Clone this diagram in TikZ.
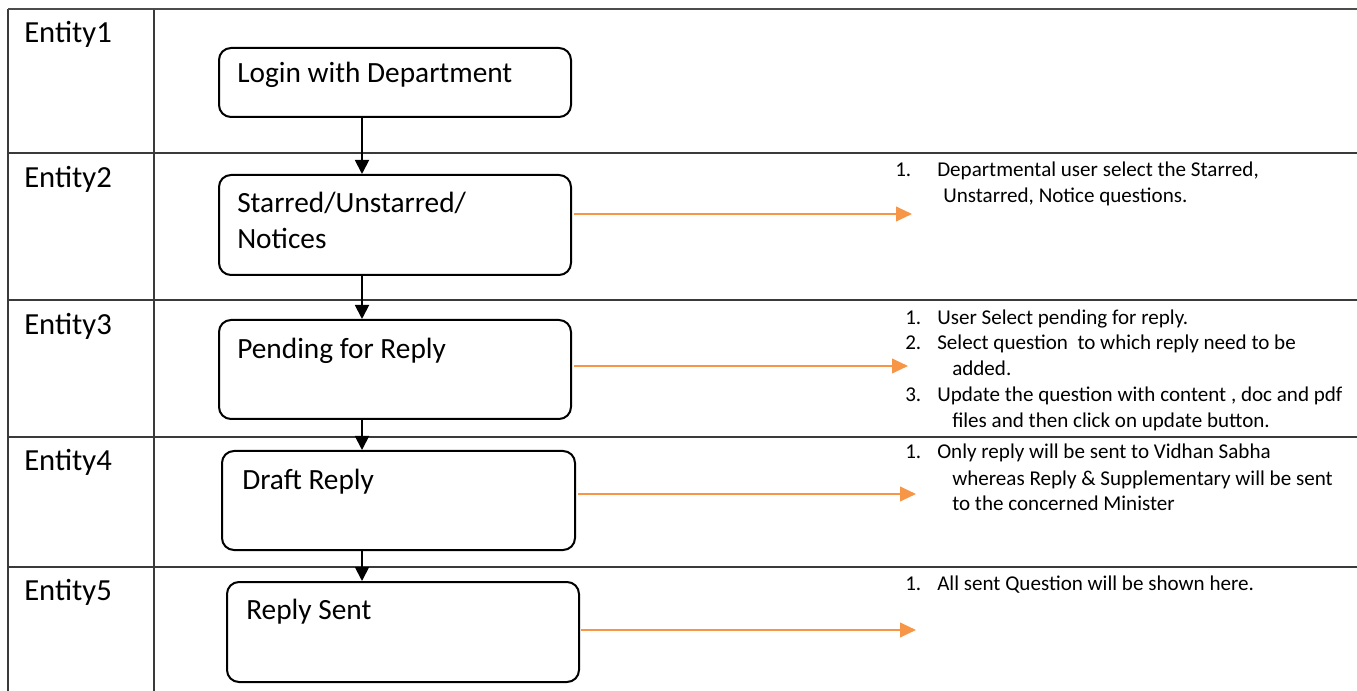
\documentclass[tikz,border=0pt]{standalone}
\usepackage{fontspec}
\setmainfont{Carlito}
\usetikzlibrary{arrows.meta}
\definecolor{noteorange}{HTML}{F79646}
\definecolor{gridgray}{HTML}{3A3A3A}
\tikzset{
  gridline/.style={draw=gridgray, line width=1.1pt},
  topline/.style={draw=black!70, line width=1.5pt},
  stage/.style={draw=black, line width=1.5pt, rounded corners=9pt, inner sep=0pt,
    anchor=north west, minimum width=264pt, minimum height=75pt},
  stagetext/.style={anchor=base west, inner sep=0pt, font=\fontsize{22}{26}\selectfont},
  entity/.style={anchor=base west, inner sep=0pt, font=\fontsize{23}{27}\selectfont},
  notetext/.style={anchor=base west, inner sep=0pt, font=\fontsize{15.8}{19}\selectfont},
  flow/.style={draw=black, line width=1.4pt, -{Triangle[length=10.5pt,width=10.5pt]}},
  remark/.style={draw=noteorange, line width=1.5pt, shorten <=1.5pt, -{Triangle[length=12pt,width=11pt]}}
}
\begin{document}
\begin{tikzpicture}[x=0.75pt, y=-0.75pt]
\useasboundingbox (0,0) rectangle (1357,691);

% swimlane grid
\draw[gridline] (8,9) -- (8,691);
\draw[gridline] (154,9) -- (154,691);
\foreach \yy in {153,300,437,567} \draw[gridline] (8,\yy) -- (1357,\yy);
\draw[topline] (8,9) -- (1357,9);

% lane titles
\node[entity] (e1) at (24,43) {Entity1};
\node[entity] (e2) at (24,188) {Entity2};
\node[entity] (e3) at (24,335) {Entity3};
\node[entity] (e4) at (24,471) {Entity4};
\node[entity] (e5) at (24,600) {Entity5};

% process stages
\node[stage, minimum height=51.75pt] (b1) at (218,47) {};
\node[stage] (b2) at (218,174) {};
\node[stage, minimum height=74.25pt] (b3) at (218,319) {};
\node[stage, minimum width=264.75pt, minimum height=74.25pt] (b4) at (221,450) {};
\node[stage] (b5) at (226,581) {};

\node[stagetext] (t1) at (237,83) {Login with Department};
\node[stagetext] (t2a) at (237,213) {Starred/Unstarred/};
\node[stagetext] (t2b) at (237,249) {Notices};
\node[stagetext] (t3) at (237,359) {Pending for Reply};
\node[stagetext] (t4) at (242,489) {Draft Reply};
\node[stagetext] (t5) at (246,619) {Reply Sent};

% flow between stages
\coordinate (spine) at (362,0);
\draw[flow] (b1.south -| spine) -- (b2.north -| spine);
\draw[flow] (b2.south -| spine) -- (b3.north -| spine);
\draw[flow] (b3.south -| spine) -- (b4.north -| spine);
\draw[flow] (b4.south -| spine) -- (b5.north -| spine);

% pointers to the notes
\coordinate (p2) at (912,214);
\coordinate (p3) at (908,366);
\coordinate (p4) at (916,494);
\coordinate (p5) at (916,630);
\draw[remark] (b2.east |- p2) -- (p2);
\draw[remark] (b3.east |- p3) -- (p3);
\draw[remark] (b4.east |- p4) -- (p4);
\draw[remark, shorten <=0.5pt] (b5.east |- p5) -- (p5);

% notes
\node[notetext] (n2n) at (895,177) {1.};
\node[notetext] (n2a) at (937,177) {Departmental user select the Starred,};
\node[notetext] (n2b) at (943,203) {Unstarred, Notice questions.};

\node[notetext] (n3n1) at (905,325) {1.};
\node[notetext] (n3a) at (937,325) {User Select pending for reply.};
\node[notetext] (n3n2) at (905,350) {2.};
\node[notetext] (n3b) at (937,350) {Select question\ \ to which reply need to be};
\node[notetext] (n3c) at (952,376) {added.};
\node[notetext] (n3n3) at (905,402) {3.};
\node[notetext] (n3d) at (937,402) {Update the question with content , doc and pdf};
\node[notetext] (n3e) at (952,428) {files and then click on update button.};

\node[notetext] (n4n) at (905,459) {1.};
\node[notetext] (n4a) at (937,459) {Only reply will be sent to Vidhan Sabha};
\node[notetext] (n4b) at (952,485) {whereas Reply \& Supplementary will be sent};
\node[notetext] (n4c) at (952,511) {to the concerned Minister};

\node[notetext] (n5n) at (905,590) {1.};
\node[notetext] (n5a) at (937,590) {All sent Question will be shown here.};
\end{tikzpicture}
\end{document}
